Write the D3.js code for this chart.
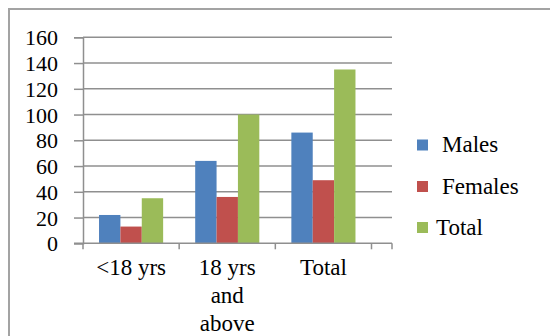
<!DOCTYPE html>
<html>
<head>
<meta charset="utf-8">
<script src="https://cdn.jsdelivr.net/npm/d3@7"></script>
</head>
<body style="margin:0">
<div id="chart"></div>
<script>
var categories = ["<18 yrs", "18 yrs and above", "Total"];
var catLines = [["<18 yrs"], ["18 yrs", "and", "above"], ["Total"]];
var seriesNames = ["Males", "Females", "Total"];
var males = [22, 64, 86];
var females = [13, 36, 49];
var totals = [35, 100, 135];
var yTicks = [0, 20, 40, 60, 80, 100, 120, 140, 160];
var colors = ["#4F81BD", "#C0504D", "#9BBB59"];

var values = [males, females, totals];

var width = 550,
	height = 336;

var serif = "Liberation Serif";
var gray = "#8f8f8f";

var svg = d3.select("#chart")
	.append("svg")
	.attr("width", width)
	.attr("height", height)
	.attr("font-family", serif);

// outer frame, runs off the right and bottom edge like the picture
svg.append("rect")
	.attr("x", 9)
	.attr("y", 9)
	.attr("width", 600)
	.attr("height", 400)
	.attr("fill", "none")
	.attr("stroke", "#a3a3a3")
	.attr("stroke-width", 2);

var plotLeft = 83, plotRight = 392, catRight = 371.5;

var x0 = d3.scaleBand().domain(categories).range([plotLeft, catRight]);
var bw = x0.bandwidth();
var gap = bw * 0.75 / 4.5;
var x1 = d3.scaleBand().domain(seriesNames).range([gap, bw - gap]);

var y = d3.scaleLinear().domain([0, 160]).range([243.3, 37.3]);

// gridlines
svg.append("g")
	.selectAll("line")
	.data(yTicks.slice(1))
	.enter().append("line")
	.attr("x1", plotLeft)
	.attr("x2", plotRight)
	.attr("y1", function(d) { return y(d); })
	.attr("y2", function(d) { return y(d); })
	.attr("stroke", gray)
	.attr("stroke-width", 1.5);

// bars
var groups = svg.append("g")
	.selectAll("g")
	.data(categories)
	.enter().append("g")
	.attr("transform", function(d) { return "translate(" + x0(d) + ",0)"; });

groups.selectAll("rect")
	.data(function(d, i) {
		return seriesNames.map(function(s, j) { return {s: s, v: values[j][i], c: colors[j]}; });
	})
	.enter().append("rect")
	.attr("x", function(d) { return x1(d.s); })
	.attr("width", x1.bandwidth())
	.attr("y", function(d) { return y(d.v); })
	.attr("height", function(d) { return y(0) - y(d.v); })
	.attr("fill", function(d) { return d.c; });

// y axis
var yAxis = svg.append("g")
	.attr("transform", "translate(" + plotLeft + ",0)")
	.call(d3.axisLeft(y).tickValues(yTicks).tickSize(9).tickPadding(16));
yAxis.attr("font-family", serif).attr("font-size", 22);
yAxis.select(".domain").attr("stroke", gray).attr("stroke-width", 1.5);
yAxis.selectAll(".tick line").attr("stroke", gray).attr("stroke-width", 1.5);
yAxis.selectAll(".tick text")
	.attr("font-family", serif)
	.attr("dy", "0.34em");

// x axis with category boundary ticks
var xLine = svg.append("g");
xLine.append("line")
	.attr("x1", plotLeft - 9)
	.attr("x2", plotRight)
	.attr("y1", y(0))
	.attr("y2", y(0))
	.attr("stroke", gray)
	.attr("stroke-width", 1.5);

var bounds = categories.map(function(d) { return x0(d); }).concat([catRight, plotRight]);
xLine.selectAll(".xt")
	.data(bounds)
	.enter().append("line")
	.attr("class", "xt")
	.attr("x1", function(d) { return d; })
	.attr("x2", function(d) { return d; })
	.attr("y1", y(0))
	.attr("y2", y(0) + 6)
	.attr("stroke", gray)
	.attr("stroke-width", 1.5);

var xLabels = svg.append("g")
	.selectAll("text")
	.data(categories)
	.enter().append("text")
	.attr("text-anchor", "middle")
	.attr("font-family", serif)
	.attr("font-size", 23)
	.attr("y", 275);

xLabels.each(function(d, i) {
	var t = d3.select(this);
	catLines[i].forEach(function(line, k) {
		t.append("tspan")
			.attr("x", x0(d) + bw / 2)
			.attr("dy", k === 0 ? 0 : 28)
			.text(line);
	});
});

// legend
var legendY = [145, 186.5, 227.5];
var legendTextX = [442, 442, 436];
var legend = svg.append("g")
	.selectAll("g")
	.data(seriesNames)
	.enter().append("g");

legend.append("rect")
	.attr("x", 417)
	.attr("y", function(d, i) { return legendY[i] - 5.5; })
	.attr("width", 11)
	.attr("height", 11)
	.attr("fill", function(d, i) { return colors[i]; });

legend.append("text")
	.attr("x", function(d, i) { return legendTextX[i]; })
	.attr("y", function(d, i) { return legendY[i] + 7; })
	.attr("font-family", serif)
	.attr("font-size", 23)
	.text(function(d) { return d; });
</script>
</body>
</html>
